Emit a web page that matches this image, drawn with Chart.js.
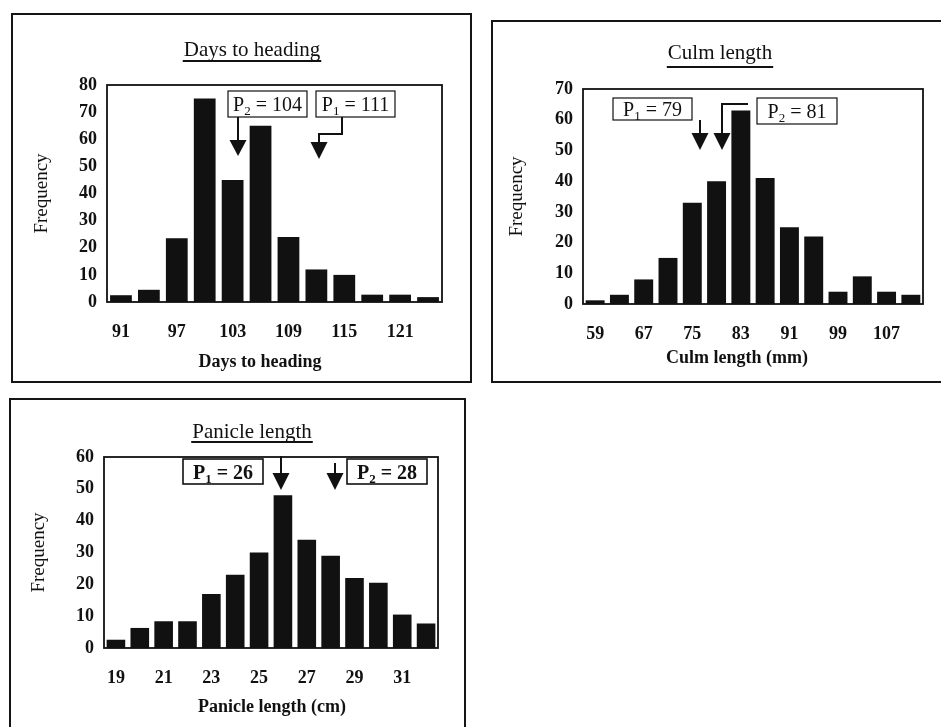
<!DOCTYPE html>
<html>
<head>
<meta charset="utf-8">
<script src="https://cdn.jsdelivr.net/npm/chart.js@4.4.1/dist/chart.umd.min.js"></script>
<style>
  body { margin: 0; width: 941px; height: 727px; overflow: hidden; background: #fff; position: relative; }
  .panel { position: absolute; box-sizing: border-box; border: 2px solid #151515; }
  canvas { position: absolute; }
</style>
</head>
<body>
<div class="panel" style="left:11px;top:13px;width:461px;height:370px;"></div>
<div class="panel" style="left:491px;top:20px;width:470px;height:363px;"></div>
<div class="panel" style="left:9px;top:398px;width:457px;height:360px;"></div>
<canvas id="days" width="457" height="366" style="left:13px;top:15px;"></canvas>
<canvas id="culm" width="448" height="359" style="left:493px;top:22px;"></canvas>
<canvas id="panicle" width="453" height="327" style="left:11px;top:400px;"></canvas>
<script>
// bins (lower edge of each class) and counts
const daysLabels = ['91', '94', '97', '100', '103', '106', '109', '112', '115', '118', '121', '124'];
const daysFreq = [2.5, 4.5, 23.5, 75, 45, 65, 24, 12, 10, 2.7, 2.7, 1.8];

const culmLabels = ['59', '63', '67', '71', '75', '79', '83', '87', '91', '95', '99', '103', '107', '111'];
const culmFreq = [1.2, 3, 8, 15, 33, 40, 63, 41, 25, 22, 4, 9, 4, 3];

const panicleLabels = ['19', '20', '21', '22', '23', '24', '25', '26', '27', '28', '29', '30', '31', '32'];
const panicleFreq = [2.6, 6.3, 8.4, 8.4, 17, 23, 30, 48, 34, 29, 22, 20.5, 10.5, 7.7];

const SERIF = '"Liberation Serif", "DejaVu Serif", serif';
const INK = '#111';

// draws title, x title, frame and the P1/P2 markers
const extras = {
  id: 'extras',
  afterDraw(chart, args, opts) {
    const ctx = chart.ctx;
    const a = chart.chartArea;
    ctx.save();
    ctx.fillStyle = INK;
    ctx.strokeStyle = INK;

    // frame round the plot
    ctx.lineWidth = 1.8;
    ctx.strokeRect(a.left, a.top, a.right - a.left, a.bottom - a.top);

    // title with underline
    ctx.font = '21px ' + SERIF;
    ctx.textAlign = 'center';
    ctx.textBaseline = 'middle';
    const tx = a.left + opts.title.x, ty = a.top + opts.title.y;
    ctx.fillText(opts.title.text, tx, ty);
    const tw = ctx.measureText(opts.title.text).width;
    ctx.lineWidth = 1.8;
    ctx.beginPath();
    ctx.moveTo(tx - tw / 2 - 1, a.top + opts.title.u);
    ctx.lineTo(tx + tw / 2 + 1, a.top + opts.title.u);
    ctx.stroke();

    // x axis title
    ctx.font = 'bold 18px ' + SERIF;
    ctx.fillText(opts.xTitle.text, a.left + opts.xTitle.x, a.top + opts.xTitle.y);

    // markers
    opts.marks.forEach(m => {
      const bx = a.left + m.box[0], by = a.top + m.box[1];
      ctx.fillStyle = '#fff';
      ctx.fillRect(bx, by, m.box[2], m.box[3]);
      ctx.fillStyle = INK;
      ctx.lineWidth = opts.bold ? 1.6 : 1.2;
      ctx.strokeRect(bx, by, m.box[2], m.box[3]);

      const weight = opts.bold ? 'bold ' : '';
      const base = by + m.box[3] / 2 + 7;
      ctx.textAlign = 'left';
      ctx.textBaseline = 'alphabetic';
      ctx.font = weight + '20px ' + SERIF;
      const pW = ctx.measureText('P').width;
      ctx.font = weight + '13px ' + SERIF;
      const sW = ctx.measureText(m.sub).width;
      ctx.font = weight + '20px ' + SERIF;
      const rest = ' = ' + m.value;
      const total = pW + sW + ctx.measureText(rest).width;
      let x = bx + (m.box[2] - total) / 2;
      ctx.fillText('P', x, base);
      x += pW;
      ctx.font = weight + '13px ' + SERIF;
      ctx.fillText(m.sub, x, base + 4);
      x += sW;
      ctx.font = weight + '20px ' + SERIF;
      ctx.fillText(rest, x, base);

      // leader line and arrow head
      ctx.lineWidth = 2;
      ctx.beginPath();
      m.path.forEach((p, i) => {
        if (i === 0) ctx.moveTo(a.left + p[0], a.top + p[1]);
        else ctx.lineTo(a.left + p[0], a.top + p[1]);
      });
      ctx.stroke();
      const last = m.path[m.path.length - 1];
      const hx = a.left + last[0], hy = a.top + last[1];
      ctx.beginPath();
      ctx.moveTo(hx - 8.5, hy);
      ctx.lineTo(hx + 8.5, hy);
      ctx.lineTo(hx, a.top + m.tip);
      ctx.closePath();
      ctx.fill();
    });
    ctx.restore();
  }
};

function makeChart(id, labels, values, yMax, yWidth, xHeight, pad, yTitlePad, extraOpts) {
  return new Chart(document.getElementById(id), {
    type: 'bar',
    data: {
      labels: labels,
      datasets: [{
        data: values,
        backgroundColor: INK,
        borderWidth: 0,
        barPercentage: 0.78,
        categoryPercentage: 1
      }]
    },
    options: {
      responsive: false,
      animation: false,
      devicePixelRatio: 1,
      layout: { padding: pad },
      plugins: {
        legend: { display: false },
        tooltip: { enabled: false },
        extras: extraOpts
      },
      scales: {
        x: {
          grid: { display: false, drawTicks: false },
          border: { display: false },
          afterFit: s => { s.height = xHeight; },
          ticks: {
            autoSkip: false,
            maxRotation: 0,
            padding: 20,
            color: INK,
            font: { family: SERIF, size: 18, weight: 'bold' },
            callback: function (v, i) { return i % 2 === 0 ? this.getLabelForValue(v) : ''; }
          }
        },
        y: {
          min: 0,
          max: yMax,
          grid: { display: false, drawTicks: false },
          border: { display: false },
          afterFit: s => { s.width = yWidth; },
          ticks: {
            stepSize: 10,
            padding: 10,
            color: INK,
            font: { family: SERIF, size: 18, weight: 'bold' }
          },
          title: {
            display: true,
            text: 'Frequency',
            color: INK,
            padding: { top: yTitlePad, bottom: 0 },
            font: { family: SERIF, size: 19 }
          }
        }
      }
    },
    plugins: [extras]
  });
}

makeChart('days', daysLabels, daysFreq, 80, 94, 79,
  { top: 70, right: 28, left: 0, bottom: 0 }, 18, {
    title: { text: 'Days to heading', x: 145, y: -35, u: -24 },
    xTitle: { text: 'Days to heading', x: 153, y: 277 },
    marks: [
      { sub: '2', value: '104', box: [121, 6, 79, 26], path: [[131, 32], [131, 55]], tip: 71 },
      { sub: '1', value: '111', box: [209, 6, 79, 26], path: [[235, 32], [235, 49], [212, 49], [212, 57]], tip: 74 }
    ]
  });

makeChart('culm', culmLabels, culmFreq, 70, 90, 77,
  { top: 67, right: 18, left: 0, bottom: 0 }, 13, {
    title: { text: 'Culm length', x: 137, y: -36, u: -22 },
    xTitle: { text: 'Culm length (mm)', x: 154, y: 269 },
    marks: [
      { sub: '1', value: '79', box: [30, 9, 79, 22], path: [[117, 31], [117, 44]], tip: 61 },
      { sub: '2', value: '81', box: [174, 9, 80, 26], path: [[165, 15], [139, 15], [139, 44]], tip: 61 }
    ]
  });

makeChart('panicle', panicleLabels, panicleFreq, 60, 93, 79,
  { top: 57, right: 26, left: 0, bottom: 0 }, 17, {
    bold: true,
    title: { text: 'Panicle length', x: 148, y: -25, u: -15 },
    xTitle: { text: 'Panicle length (cm)', x: 168, y: 250 },
    marks: [
      { sub: '1', value: '26', box: [79, 2, 80, 25], path: [[177, -1], [177, 16]], tip: 33 },
      { sub: '2', value: '28', box: [243, 2, 80, 25], path: [[231, 6], [231, 16]], tip: 33 }
    ]
  });
</script>
</body>
</html>
